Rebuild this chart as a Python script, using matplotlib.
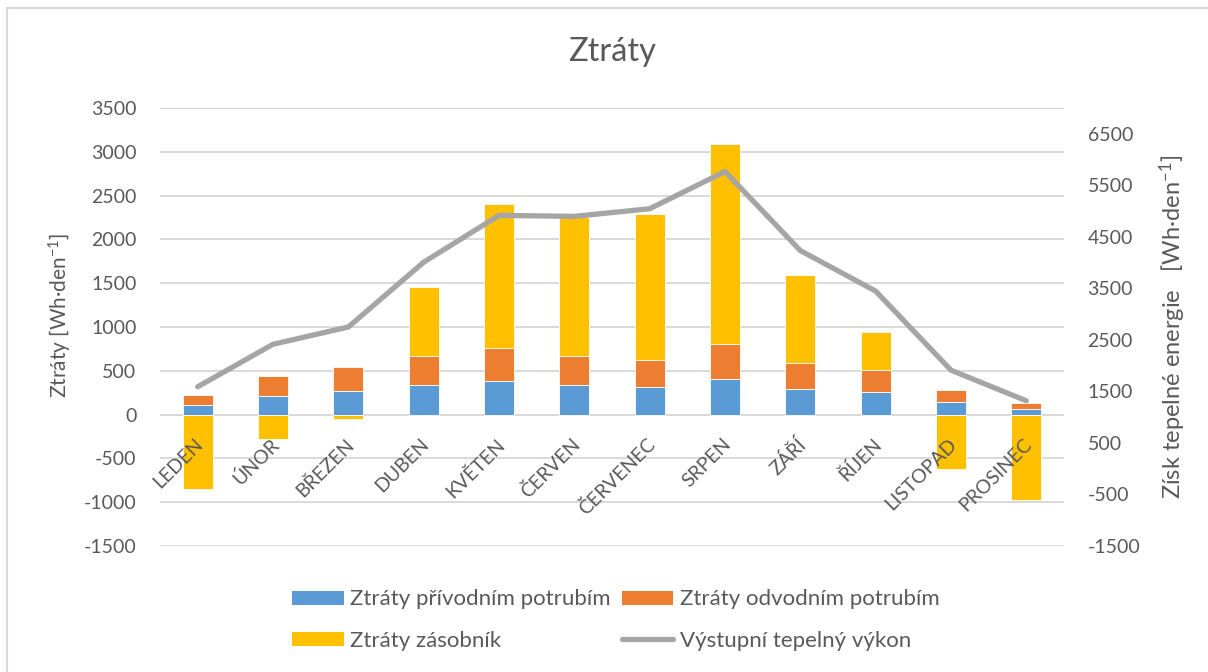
import matplotlib
matplotlib.use("Agg")
import matplotlib.pyplot as plt
import matplotlib.transforms as mtransforms
from matplotlib.patches import Patch, Rectangle
from matplotlib.lines import Line2D
import numpy as np

# Monthly data
mesice = ["LEDEN", "ÚNOR", "BŘEZEN", "DUBEN", "KVĚTEN", "ČERVEN",
          "ČERVENEC", "SRPEN", "ZÁŘÍ", "ŘÍJEN", "LISTOPAD", "PROSINEC"]
ztraty_privod = [110, 217, 270, 339, 380, 335, 316, 403, 293, 255, 141, 65]
ztraty_odvod = [115, 225, 278, 334, 377, 335, 312, 400, 293, 259, 144, 72]
ztraty_zasobnik = [-855, -282, -53, 788, 1648, 1590, 1667, 2287, 1012, 426, -624, -974]
vystupni_vykon = [1590, 2415, 2750, 4007, 4916, 4897, 5045, 5767, 4233, 3446, 1912, 1318]

C_BLUE = "#5B9BD5"
C_ORANGE = "#ED7D31"
C_YELLOW = "#FFC000"
C_GRAY = "#A5A5A5"
C_TEXT = "#595959"
C_GRID = "#D9D9D9"

plt.rcParams["font.family"] = ["Lato", "DejaVu Sans"]
plt.rcParams["mathtext.fontset"] = "custom"
plt.rcParams["mathtext.rm"] = "Lato"
plt.rcParams["mathtext.it"] = "Lato:italic"
plt.rcParams["mathtext.bf"] = "Lato:bold"
plt.rcParams["axes.unicode_minus"] = False

W, H = 1208, 672
fig = plt.figure(figsize=(W / 100, H / 100), dpi=100)

# chart frame (top and left edges visible)
fig.patches.append(Rectangle((7 / W, -0.1), 1.2, 1 - 8 / H + 0.1, transform=fig.transFigure,
                             fill=False, edgecolor=C_GRID, lw=1.5))

L, R, T, B = 160, 1064, 108, 546
ax = fig.add_axes([L / W, 1 - B / H, (R - L) / W, (B - T) / H])
ax2 = ax.twinx()

x = np.arange(len(mesice))
bw = 0.4
privod = np.array(ztraty_privod)
odvod = np.array(ztraty_odvod)
zasob = np.array(ztraty_zasobnik)
zas_bottom = np.where(zasob > 0, privod + odvod, 0)

ec = dict(edgecolor="white", linewidth=0.6)
ax.bar(x, privod, bw, color=C_BLUE, zorder=3, **ec)
ax.bar(x, odvod, bw, bottom=privod, color=C_ORANGE, zorder=3, **ec)
ax.bar(x, zasob, bw, bottom=zas_bottom, color=C_YELLOW, zorder=3, **ec)

ax.set_xlim(-0.5, len(mesice) - 0.5)
ax.set_ylim(-1500, 3500)
ax.set_yticks(np.arange(-1500, 3501, 500))
ax.set_xticks([])
ax.yaxis.grid(True, color=C_GRID, lw=1.4, zorder=0)
ax.set_axisbelow(True)
ax.tick_params(axis="y", length=0, pad=17, labelsize=14, labelcolor=C_TEXT)
for s in ax.spines.values():
    s.set_visible(False)

ax2.plot(x, vystupni_vykon, color=C_GRAY, lw=3.8, solid_capstyle="round",
         solid_joinstyle="round", zorder=5)
ax2.set_ylim(-1500, 7000)
ax2.set_yticks(np.arange(-1500, 6501, 1000))
ax2.tick_params(axis="y", length=0, pad=17, labelsize=14, labelcolor=C_TEXT)
for s in ax2.spines.values():
    s.set_visible(False)

# month names, rotated, next to the zero line
lab_tr = mtransforms.offset_copy(ax.transData, fig=fig, x=3, y=-27, units="dots")
for xi, m in zip(x, mesice):
    ax.text(xi, 0, m, transform=lab_tr, rotation=45, ha="right", va="center",
            rotation_mode="anchor", fontsize=14, color=C_TEXT)

ax.set_ylabel(r"Ztráty [Wh·den$^{-1}$]", fontsize=15, color=C_TEXT)
ax.yaxis.set_label_coords(-0.095, 0.527)
ax2.set_ylabel(r"Získ tepelné energie   [Wh·den$^{-1}$]", fontsize=17, color=C_TEXT,
               rotation=90)
ax2.yaxis.set_label_coords(1.103, 0.5)

fig.text(612 / W, 1 - 52 / H, "Ztráty", ha="center", va="center", fontsize=23.5, color=C_TEXT)

handles = [
    Patch(facecolor=C_BLUE, edgecolor="none"),
    Patch(facecolor=C_YELLOW, edgecolor="none"),
    Patch(facecolor=C_ORANGE, edgecolor="none"),
    Line2D([0], [0], color=C_GRAY, lw=3.8, solid_capstyle="round"),
]
labels = ["Ztráty přívodním potrubím", "Ztráty zásobník",
          "Ztráty odvodním potrubím", "Výstupní tepelný výkon"]
leg = fig.legend(handles, labels, ncol=2, loc="center",
                 bbox_to_anchor=(616 / W, 1 - 620 / H), frameon=False,
                 fontsize=16, handlelength=2.3, handleheight=0.6,
                 handletextpad=0.3, columnspacing=0.5, labelspacing=0.95)
for t in leg.get_texts():
    t.set_color(C_TEXT)

fig.savefig("out.png", dpi=100)
